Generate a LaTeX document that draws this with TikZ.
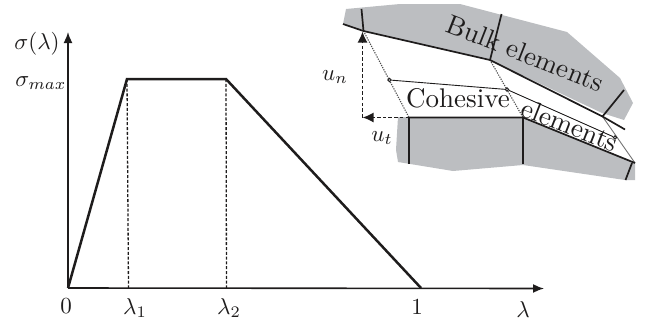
\documentclass[tikz,border=0pt]{standalone}
\usetikzlibrary{arrows.meta}
\definecolor{bulk}{RGB}{188,190,193}
\definecolor{ink}{RGB}{30,28,28}
\tikzset{
  every node/.style={text=ink,inner sep=0pt},
  lab/.style={scale=2.3},
  biglab/.style={scale=2.7},
  curve/.style={draw=ink,line width=2.5pt,line join=miter},
  axisline/.style={draw=ink,line width=1.6pt,-{Latex[length=11pt,width=9pt]}},
  guide/.style={draw=ink,line width=1.3pt,dash pattern=on 3pt off 1.8pt},
  edge/.style={draw=ink,line width=1.7pt},
  disp/.style={draw=ink,line width=1.6pt,dash pattern=on 3.5pt off 2.2pt,-{Latex[length=11pt,width=10pt]}},
  gap/.style={draw=black!70,line width=1.1pt,dash pattern=on 1.2pt off 1.2pt},
  mid/.style={draw=ink,line width=.9pt},
  pin/.style={circle,draw=ink,line width=.9pt,fill=bulk,minimum size=3.6pt}
}
\begin{document}
\begin{tikzpicture}[x=1pt,y=-1pt]
\useasboundingbox (0,0) rectangle (648,325);
% coordinates
\coordinate (O) at (68,288);
\coordinate (XE) at (544,288.5);
\coordinate (YE) at (68,32);
\coordinate (P1) at (127,79);
\coordinate (P2) at (226,79);
\coordinate (E) at (421,288);
\coordinate (B1) at (128.5,288);
\coordinate (B2) at (226.5,288);
% bulk
\fill[bulk] (346,9) -- (400,4) -- (460,4) -- (567,32) -- (620,78) -- (633,103) -- (624,120) -- (602,113) -- (490,60) -- (363,31) -- (343,24) -- cycle;
\fill[bulk] (398,117) -- (523,117) -- (635,163) -- (635,180) -- (625,180) -- (523,165) -- (453,171) -- (398,162) -- (396,150) -- cycle;
% plot
\draw[guide] (P1) -- (B1);
\draw[guide] (P2) -- (B2);
\draw[axisline] (O) -- (YE);
\draw[axisline] (O) -- (XE);
\draw[curve] (O) -- (P1) -- (P2) -- (E);
% cohesive geometry
\coordinate (U1) at (343,24);
\coordinate (U2) at (363.5,31);
\coordinate (U3) at (490,60);
\coordinate (U4) at (602.5,116.5);
\coordinate (U5) at (625,129.5);
\coordinate (L0) at (362.5,117.5);
\coordinate (L1) at (409,117.5);
\coordinate (L2) at (523,117.5);
\coordinate (L3) at (635,163);
\draw[gap] (U2) -- (L1);
\draw[gap] (U3) -- (L2);
\draw[draw=black!55,line width=.9pt] (U4) -- (L3);
\draw[edge] (U1) -- (U2) -- (U3) -- (U4) -- (U5);
\draw[edge] (L1) -- (L2) -- (L3);
\draw[edge] (361.5,9) -- (U2);
\draw[edge] (501.5,14) -- (U3);
\draw[edge] (624,90) -- (U4);
\draw[edge] (L1) -- (409,164);
\draw[edge] (L2) -- (523,164);
\draw[edge] (632,163) -- (625.5,180);
\node[pin] (m1) at (389.5,80) {};
\node[pin] (m2) at (507,89.5) {};
\node[pin] (m3) at (615,137.5) {};
\draw[mid] (m1) -- (m2) -- (m3);
\draw[disp] (L0) -- (362.5,31.5);
\draw[disp] (L1) -- (L0);
% texts
\node[lab] (ls) at (37,44) {$\sigma(\lambda)$};
\node[lab] (lm) at (41,83) {$\sigma_{max}$};
\node[lab] (l0) at (66,306) {$0$};
\node[lab] (l1) at (135,308) {$\lambda_1$};
\node[lab] (l2) at (229,308) {$\lambda_2$};
\node[lab] (l3) at (417,307) {$1$};
\node[lab] (l4) at (523,310) {$\lambda$};
\node[lab] (un) at (335,77) {$u_n$};
\node[lab] (ut) at (382,138) {$u_t$};
\node[biglab,rotate=-21.5] (bk) at (525,53) {Bulk elements};
\node[biglab] (ch) at (458,98) {Cohesive};
\node[biglab,rotate=-21.5] (el) at (570,125) {elements};
\end{tikzpicture}
\end{document}
